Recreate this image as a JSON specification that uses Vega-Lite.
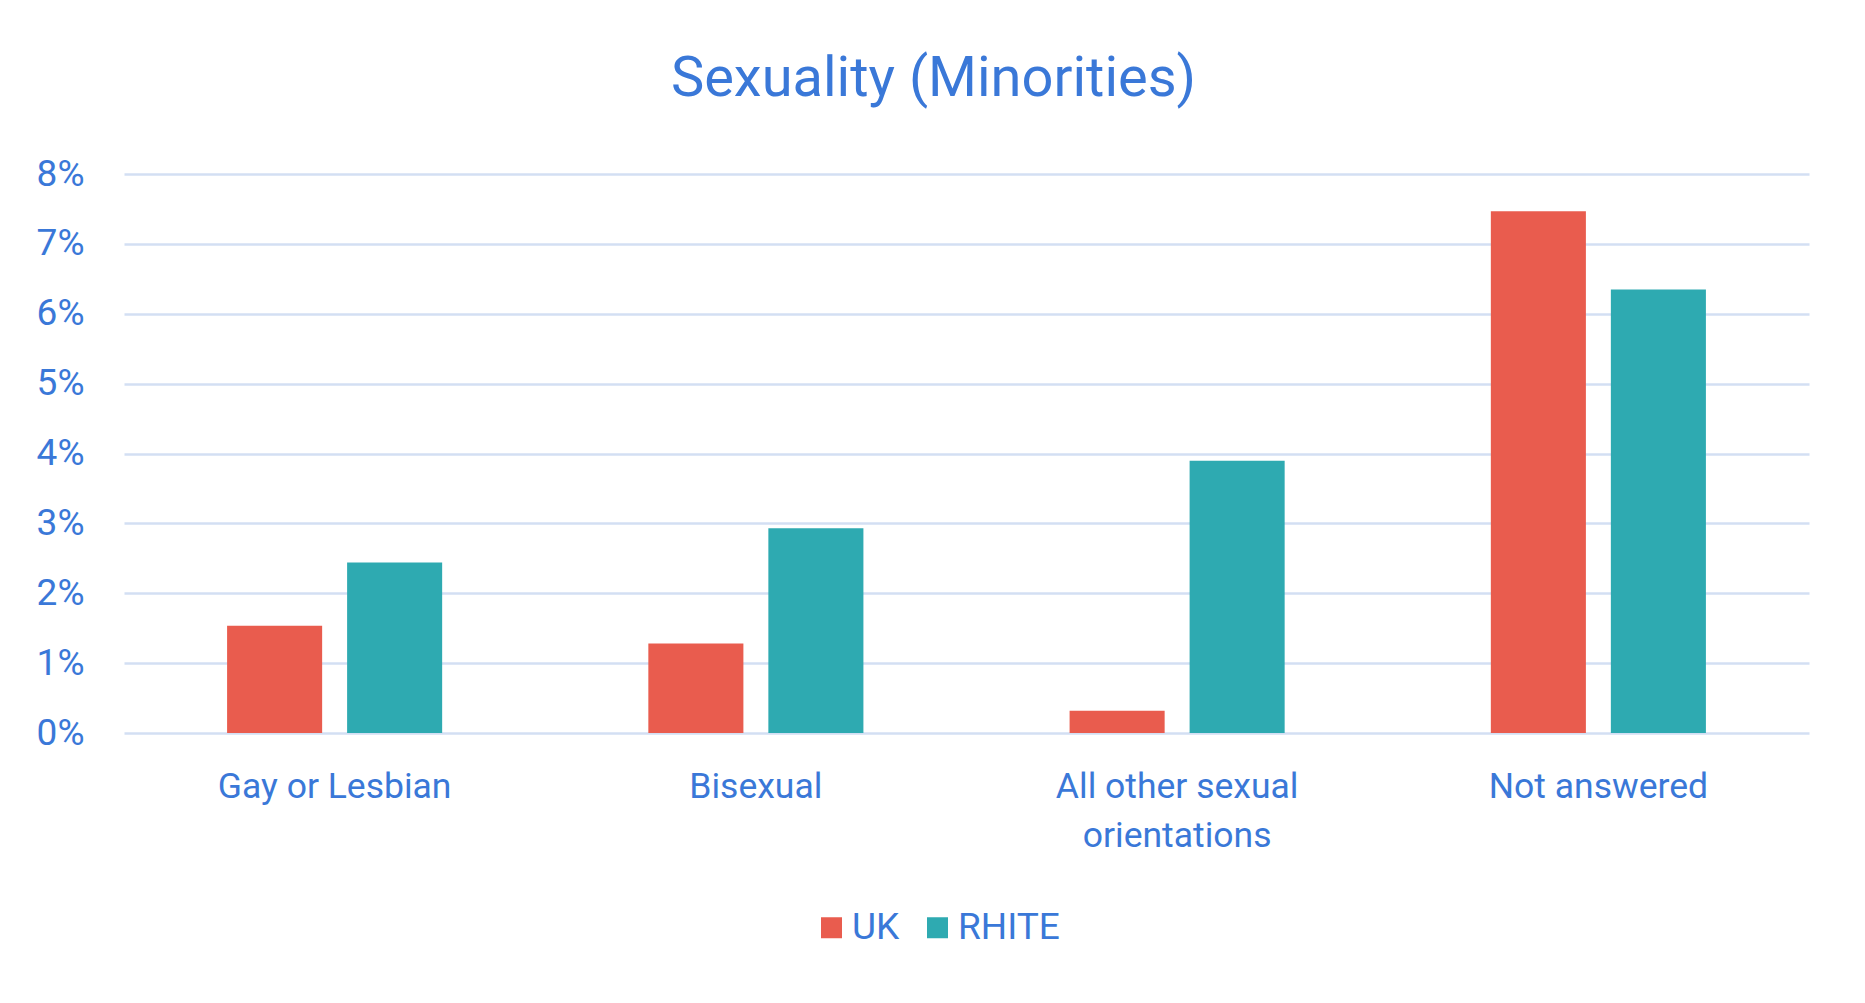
{
  "$schema": "https://vega.github.io/schema/vega-lite/v6.json",
  "autosize": {"type": "none"},
  "width": 1685,
  "height": 559,
  "padding": {"left": 124, "top": 174, "right": 56, "bottom": 270},
  "background": "white",
  "title": {
    "text": "Sexuality (Minorities)",
    "font": "Roboto",
    "fontSize": 56,
    "fontWeight": "normal",
    "color": "#3A78D8",
    "anchor": "middle",
    "frame": "group",
    "dx": -33,
    "baseline": "alphabetic",
    "offset": 3
  },
  "data": {
    "values": [
      {"category": "Gay or Lesbian", "series": "UK", "value": 0.01535},
      {"category": "Gay or Lesbian", "series": "RHITE", "value": 0.0244},
      {"category": "Bisexual", "series": "UK", "value": 0.0128},
      {"category": "Bisexual", "series": "RHITE", "value": 0.0293},
      {"category": "All other sexual orientations", "series": "UK", "value": 0.0032},
      {"category": "All other sexual orientations", "series": "RHITE", "value": 0.03895},
      {"category": "Not answered", "series": "UK", "value": 0.07466},
      {"category": "Not answered", "series": "RHITE", "value": 0.06347}
    ]
  },
  "mark": {"type": "bar"},
  "encoding": {
    "x": {
      "field": "category",
      "type": "nominal",
      "sort": ["Gay or Lesbian", "Bisexual", "All other sexual orientations", "Not answered"],
      "scale": {"paddingInner": 0, "paddingOuter": 0},
      "axis": {
        "title": null,
        "domain": false,
        "ticks": false,
        "labelAngle": 0,
        "labelFont": "Roboto",
        "labelFontSize": 35.5,
        "labelColor": "#3A78D8",
        "labelBaseline": "alphabetic",
        "labelPadding": 64,
        "labelLineHeight": 49,
        "labelLimit": 0,
        "labelExpr": "datum.label == 'All other sexual orientations' ? ['All other sexual', 'orientations'] : datum.label"
      }
    },
    "xOffset": {
      "field": "series",
      "type": "nominal",
      "sort": ["UK", "RHITE"],
      "scale": {"paddingInner": 0.208, "paddingOuter": 0.859}
    },
    "y": {
      "field": "value",
      "type": "quantitative",
      "scale": {"domain": [0, 0.08], "nice": false},
      "axis": {
        "title": null,
        "domain": false,
        "ticks": false,
        "values": [0, 0.01, 0.02, 0.03, 0.04, 0.05, 0.06, 0.07, 0.08],
        "format": ".0%",
        "labelFont": "Roboto",
        "labelFontSize": 37,
        "labelColor": "#3A78D8",
        "labelPadding": 40,
        "grid": true,
        "gridColor": "#D3DFF3",
        "gridWidth": 2.5
      }
    },
    "color": {
      "field": "series",
      "type": "nominal",
      "sort": ["UK", "RHITE"],
      "scale": {"domain": ["UK", "RHITE"], "range": ["#E95C4E", "#2EAAB1"]},
      "legend": {
        "title": null,
        "orient": "none",
        "legendX": 689,
        "legendY": 735,
        "direction": "horizontal",
        "symbolType": "square",
        "symbolSize": 441,
        "symbolStrokeWidth": 0,
        "labelFont": "Roboto",
        "labelFontSize": 37,
        "labelColor": "#3A78D8",
        "labelOffset": 2,
        "columnPadding": 19
      }
    }
  },
  "config": {
    "view": {"stroke": null}
  }
}
